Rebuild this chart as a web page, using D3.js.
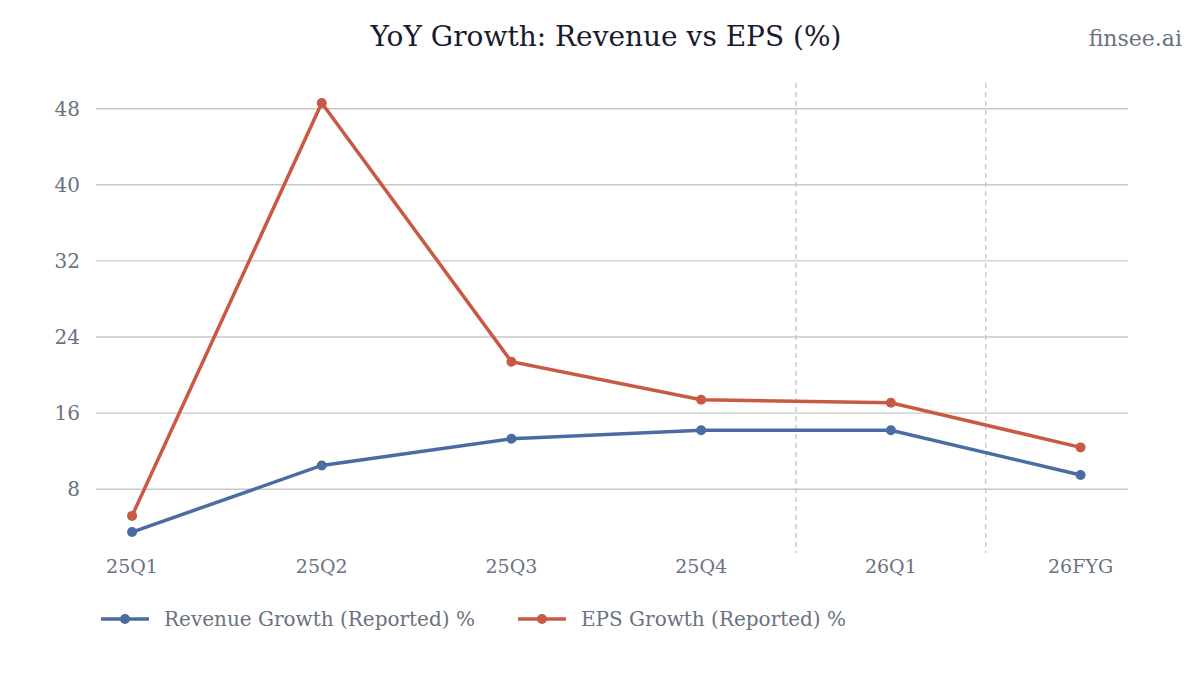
<!DOCTYPE html>
<html>
<head>
<meta charset="utf-8">
<script src="https://cdn.jsdelivr.net/npm/d3@7"></script>
<style>
  body { margin: 0; background: #fff; }
  svg { font-family: "DejaVu Serif", serif; }
</style>
</head>
<body>
<div id="chart"></div>
<script>
const periods = ["25Q1", "25Q2", "25Q3", "25Q4", "26Q1", "26FYG"];
const revenueGrowth = [3.5, 10.5, 13.3, 14.2, 14.2, 9.5];
const epsGrowth = [5.2, 48.6, 21.4, 17.4, 17.1, 12.4];
const yTicks = [8, 16, 24, 32, 40, 48];
const dividers = [3.5, 4.5];

const width = 1200, height = 675;
const margin = {left: 96, right: 72, top: 83, bottom: 122};

const svg = d3.select("#chart").append("svg")
  .attr("width", width)
  .attr("height", height);

const x = d3.scaleLinear()
  .domain([-0.19, periods.length - 1 + 0.25])
  .range([margin.left, width - margin.right]);

const y = d3.scaleLinear()
  .domain([1.3, 50.7])
  .range([height - margin.bottom, margin.top]);

// gridlines
svg.append("g")
  .selectAll("line")
  .data(yTicks)
  .enter()
  .append("line")
  .attr("x1", margin.left)
  .attr("x2", width - margin.right)
  .attr("y1", d => y(d))
  .attr("y2", d => y(d))
  .style("stroke", "#c8c8c8")
  .style("stroke-width", 1.4);

// y tick labels
svg.append("g")
  .selectAll("text")
  .data(yTicks)
  .enter()
  .append("text")
  .attr("x", 80)
  .attr("y", d => y(d))
  .attr("dy", "0.35em")
  .attr("text-anchor", "end")
  .style("font-size", "20px")
  .style("fill", "#6b7280")
  .text(d => d);

// dashed dividers
svg.append("g")
  .selectAll("line")
  .data(dividers)
  .enter()
  .append("line")
  .attr("x1", d => x(d))
  .attr("x2", d => x(d))
  .attr("y1", margin.top)
  .attr("y2", height - margin.bottom)
  .style("stroke", "#c4c4c4")
  .style("stroke-width", 1.3)
  .style("stroke-dasharray", "5,4");

// x labels
svg.append("g")
  .selectAll("text")
  .data(periods)
  .enter()
  .append("text")
  .attr("x", (d, i) => x(i))
  .attr("y", 573)
  .attr("text-anchor", "middle")
  .style("font-size", "19px")
  .style("fill", "#6b7280")
  .text(d => d);

const series = [
  {name: "Revenue Growth (Reported) %", values: revenueGrowth, color: "#4a6ca3"},
  {name: "EPS Growth (Reported) %", values: epsGrowth, color: "#c85a44"}
];

const line = d3.line()
  .x((d, i) => x(i))
  .y(d => y(d));

series.forEach(s => {
  svg.append("path")
    .datum(s.values)
    .attr("d", line)
    .style("fill", "none")
    .style("stroke", s.color)
    .style("stroke-width", 3.5);
  svg.append("g")
    .selectAll("circle")
    .data(s.values)
    .enter()
    .append("circle")
    .attr("cx", (d, i) => x(i))
    .attr("cy", d => y(d))
    .attr("r", 5)
    .style("fill", s.color);
});

// legend
const legendX = [101, 518];
series.forEach((s, i) => {
  const g = svg.append("g").attr("transform", `translate(${legendX[i]},619)`);
  g.append("line")
    .attr("x1", 0).attr("x2", 48)
    .style("stroke", s.color)
    .style("stroke-width", 3.5);
  g.append("circle")
    .attr("cx", 24).attr("r", 5)
    .style("fill", s.color);
  g.append("text")
    .attr("x", 63)
    .attr("dy", "0.35em")
    .style("font-size", "20px")
    .style("fill", "#6b7280")
    .text(s.name);
});

// title
svg.append("text")
  .attr("x", 606)
  .attr("y", 46)
  .attr("text-anchor", "middle")
  .style("font-size", "28px")
  .style("fill", "#1a1a2e")
  .text("YoY Growth: Revenue vs EPS (%)");

svg.append("text")
  .attr("x", 1182)
  .attr("y", 46)
  .attr("text-anchor", "end")
  .style("font-size", "22px")
  .style("fill", "#6b7280")
  .text("finsee.ai");
</script>
</body>
</html>
